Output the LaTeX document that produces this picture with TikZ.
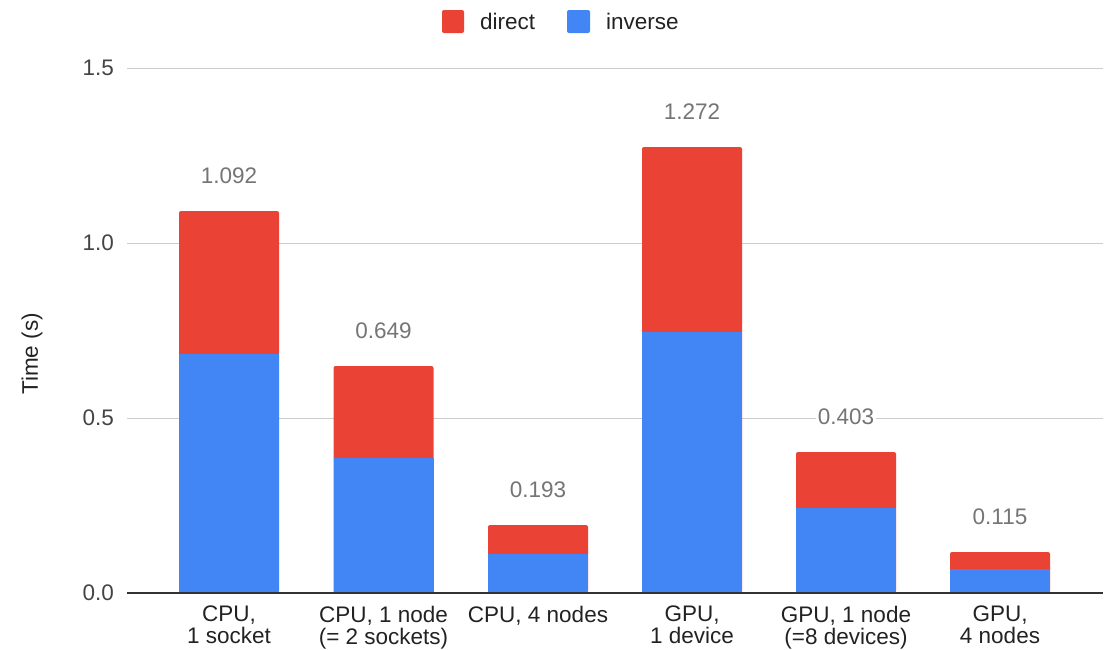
\documentclass[tikz,border=0pt]{standalone}
\usepackage{fontspec}
\setmainfont{Liberation Sans}
\definecolor{dred}{HTML}{EA4335}
\definecolor{iblue}{HTML}{4285F4}
\definecolor{gridc}{HTML}{CCCCCC}
\definecolor{axisc}{HTML}{333333}
\definecolor{txtc}{HTML}{222222}
\definecolor{tickc}{HTML}{444444}
\definecolor{valc}{HTML}{757575}
\begin{document}
\begin{tikzpicture}[x=1pt,y=-1pt,
  base/.style={font=\fontsize{22.5}{22}\selectfont, inner sep=0pt},
  ticklbl/.style={base, text=tickc, anchor=east},
  catlbl/.style={base, text=txtc, anchor=north, align=center},
  vallbl/.style={base, text=valc, fill=white, inner xsep=2pt, inner ysep=1pt},
  leglbl/.style={base, text=txtc, anchor=west},
  gridline/.style={draw=gridc, line width=1pt},
  axisline/.style={draw=axisc, line width=1.5pt},
  directbar/.style={fill=dred, rounded corners=2pt},
  inversebar/.style={fill=iblue},
  legbox/.style={rounded corners=2pt}
]
\useasboundingbox (0,0) rectangle (1107,649);
% gridlines
\foreach \v/\y in {1.5/68, 1.0/243, 0.5/418}{
  \draw[gridline] (127,\y) -- (1103,\y);
  \node[ticklbl] (t\v) at (114,\y) {\v};
}
\node[ticklbl] (t0) at (114,593) {0.0};
% bars
\foreach \i/\x/\t/\s/\val in {1/229/211/354/1.092, 2/383.5/366/458/0.649, 3/538/525/554/0.193, 4/692/147/332/1.272, 5/846/452/508/0.403, 6/1000/552/569/0.115}{
  \fill[directbar] ({\x-50},593) rectangle ({\x+50},\t);
  \fill[inversebar] ({\x-50},593) rectangle ({\x+50},\s);
  \node[vallbl] (v\i) at (\x,{\t-35}) {\val};
}
\draw[axisline] (127,593) -- (1103,593);
% category labels
\node[catlbl] (c1) at (229,606) {CPU,\\1 socket};
\node[catlbl] (c2) at (383.5,606) {CPU, 1 node\\(= 2 sockets)};
\node[catlbl] (c3) at (538,606) {CPU, 4 nodes};
\node[catlbl] (c4) at (692,606) {GPU,\\1 device};
\node[catlbl] (c5) at (846,606) {GPU, 1 node\\(=8 devices)};
\node[catlbl] (c6) at (1000,606) {GPU,\\4 nodes};
% axis title
\node[base, text=txtc, rotate=90] (ytitle) at (32,354) {Time (s)};
% legend
\fill[dred, legbox] (442,10) rectangle (464,33);
\node[leglbl] (ldirect) at (480,21.5) {direct};
\fill[iblue, legbox] (567,10) rectangle (590,33);
\node[leglbl] (linverse) at (606,21.5) {inverse};
\end{tikzpicture}
\end{document}
